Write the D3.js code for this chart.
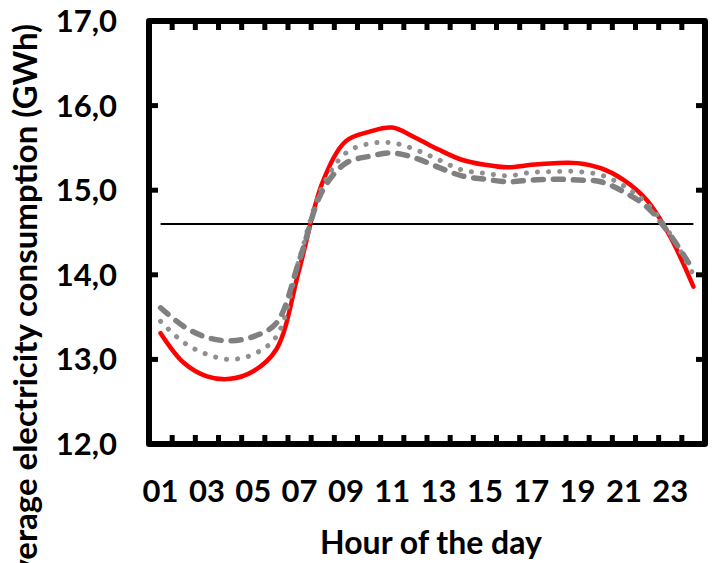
<!DOCTYPE html>
<html>
<head>
<meta charset="utf-8">
<script src="https://cdn.jsdelivr.net/npm/d3@7"></script>
<style>
  html, body { margin: 0; padding: 0; background: #fff; }
  svg { display: block; }
  text { font-family: Lato, "Open Sans", sans-serif; font-weight: 700; fill: #000; }
</style>
</head>
<body>
<svg id="chart" width="721" height="563"></svg>
<script>
// ---- data ----
const hours = ["01","02","03","04","05","06","07","08","09","10","11","12",
               "13","14","15","16","17","18","19","20","21","22","23","24"];
const hourTickLabels = ["01","03","05","07","09","11","13","15","17","19","21","23"];
const seriesRed    = [13.31,12.96,12.80,12.77,12.86,13.12,14.08,15.10,15.58,15.69,15.74,15.62,
                      15.48,15.36,15.30,15.27,15.30,15.32,15.32,15.26,15.12,14.88,14.45,13.86];
const seriesDotted = [13.45,13.20,13.06,13.00,13.06,13.27,14.20,15.05,15.44,15.55,15.56,15.48,
                      15.36,15.24,15.20,15.17,15.21,15.22,15.22,15.18,15.05,14.84,14.48,14.00];
const seriesDashed = [13.61,13.39,13.26,13.22,13.27,13.43,14.18,15.00,15.32,15.40,15.44,15.38,
                      15.27,15.17,15.13,15.10,15.12,15.13,15.12,15.10,14.98,14.80,14.47,14.05];
const referenceLevel = 14.60;
const yTickValues = [12,13,14,15,16,17];
const xTitle = "Hour of the day";
const yTitle = "Average electricity consumption (GWh)";

(function () {
// ---- layout ----
const svg = d3.select("#chart");
const pLeft = 149, pRight = 705, pTop = 21, pBottom = 444;

const x = d3.scaleBand().domain(hours).range([pLeft, pRight]).padding(0);
const y = d3.scaleLinear().domain([12, 17]).range([pBottom, pTop]);
const cx = h => x(h) + x.bandwidth() / 2;

// inner ticks (category boundaries) on top & bottom
const boundaries = hours.slice(1);
const tickLen = 9;
svg.append("g").selectAll("line").data(boundaries).join("line")
  .attr("x1", d => x(d)).attr("x2", d => x(d))
  .attr("y1", pBottom).attr("y2", pBottom - tickLen)
  .attr("stroke", "#000").attr("stroke-width", 5);
svg.append("g").selectAll("line").data(boundaries).join("line")
  .attr("x1", d => x(d)).attr("x2", d => x(d))
  .attr("y1", pTop).attr("y2", pTop + tickLen)
  .attr("stroke", "#000").attr("stroke-width", 5);
// inner y ticks on left & right
const innerY = yTickValues.slice(1, -1);
svg.append("g").selectAll("line").data(innerY).join("line")
  .attr("x1", pLeft).attr("x2", pLeft + tickLen)
  .attr("y1", d => y(d)).attr("y2", d => y(d))
  .attr("stroke", "#000").attr("stroke-width", 5);
svg.append("g").selectAll("line").data(innerY).join("line")
  .attr("x1", pRight).attr("x2", pRight - tickLen)
  .attr("y1", d => y(d)).attr("y2", d => y(d))
  .attr("stroke", "#000").attr("stroke-width", 5);

// frame
svg.append("rect")
  .attr("x", pLeft).attr("y", pTop)
  .attr("width", pRight - pLeft).attr("height", pBottom - pTop)
  .attr("fill", "none").attr("stroke", "#000").attr("stroke-width", 6)
  .attr("stroke-linejoin", "round");

// y tick labels
const fmt = v => d3.format(".1f")(v).replace(".", ",");
svg.append("g").selectAll("text").data(yTickValues).join("text")
  .attr("x", 117).attr("y", d => y(d) + 11)
  .attr("text-anchor", "end")
  .style("font-size", "31px")
  .text(fmt);

// x tick labels
svg.append("g").selectAll("text").data(hourTickLabels).join("text")
  .attr("x", d => cx(d)).attr("y", 502)
  .attr("text-anchor", "middle")
  .style("font-size", "31px")
  .text(d => d);

// axis titles
svg.append("text")
  .attr("x", 431).attr("y", 554)
  .attr("text-anchor", "middle")
  .style("font-size", "32px")
  .text(xTitle);
svg.append("text")
  .attr("transform", "translate(37,24) rotate(-90)")
  .attr("text-anchor", "end")
  .style("font-size", "33px")
  .text(yTitle);

// reference line
svg.append("line")
  .attr("x1", cx(hours[0])).attr("x2", cx(hours[hours.length - 1]))
  .attr("y1", y(referenceLevel)).attr("y2", y(referenceLevel))
  .attr("stroke", "#000").attr("stroke-width", 2);

// series
const line = d3.line()
  .x((d, i) => cx(hours[i]))
  .y(d => y(d))
  .curve(d3.curveCatmullRom.alpha(0.5));

svg.append("path").datum(seriesRed)
  .attr("d", line).attr("fill", "none")
  .attr("stroke", "#ff0000").attr("stroke-width", 4.5)
  .attr("stroke-linecap", "round").attr("stroke-linejoin", "round");
svg.append("path").datum(seriesDotted)
  .attr("d", line).attr("fill", "none")
  .attr("stroke", "#8f8f8f").attr("stroke-width", 5)
  .attr("stroke-dasharray", "0.1 11")
  .attr("stroke-linecap", "round");
svg.append("path").datum(seriesDashed)
  .attr("d", line).attr("fill", "none")
  .attr("stroke", "#808080").attr("stroke-width", 5.5)
  .attr("stroke-dasharray", "10 10")
  .attr("stroke-linecap", "round");
})();
</script>
</body>
</html>
